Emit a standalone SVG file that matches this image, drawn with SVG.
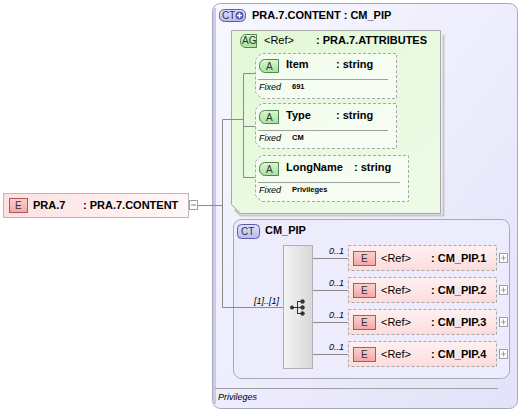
<svg xmlns="http://www.w3.org/2000/svg" width="522" height="412" viewBox="0 0 522 412">
<defs>
<linearGradient id="gOuter" x1="0" y1="0" x2="1" y2="1"><stop offset="0" stop-color="#f8f8ff"/><stop offset="1" stop-color="#e2e2fa"/></linearGradient>
<linearGradient id="gAG" x1="0" y1="0" x2="1" y2="1"><stop offset="0" stop-color="#e2f8d6"/><stop offset="1" stop-color="#eefbe8"/></linearGradient>
<linearGradient id="gAttr" x1="0" y1="0" x2="1" y2="1"><stop offset="0" stop-color="#f2fcec"/><stop offset="1" stop-color="#f8fdf5"/></linearGradient>
<linearGradient id="gEl" x1="0" y1="0" x2="0" y2="1"><stop offset="0" stop-color="#fff0f0"/><stop offset="1" stop-color="#fcdcdc"/></linearGradient>
<linearGradient id="gElMain" x1="0" y1="0" x2="1" y2="0"><stop offset="0" stop-color="#fde0e0"/><stop offset="1" stop-color="#fff8f8"/></linearGradient>
<linearGradient id="gSeq" x1="0" y1="0" x2="1" y2="0"><stop offset="0" stop-color="#f4f4f4"/><stop offset="1" stop-color="#d8d8d8"/></linearGradient>
<linearGradient id="gE" x1="0" y1="0" x2="0" y2="1"><stop offset="0" stop-color="#fcd0d0"/><stop offset="1" stop-color="#f0a8a8"/></linearGradient>
<linearGradient id="gA" x1="0" y1="0" x2="0" y2="1"><stop offset="0" stop-color="#d8f8d0"/><stop offset="1" stop-color="#a8e0a0"/></linearGradient>
<linearGradient id="gCT" x1="0" y1="0" x2="0" y2="1"><stop offset="0" stop-color="#e0e0ff"/><stop offset="1" stop-color="#b8b8f0"/></linearGradient>
</defs>
<style>
text{font-family:"Liberation Sans",Arial,sans-serif;fill:#000}
.b{font-weight:bold;font-size:11px}
.r{font-size:11px}
.i{font-style:italic;font-size:9px}
.v{font-weight:bold;font-size:7.5px}
.badge{font-size:10px;fill:#333}
.line{stroke:#8a8a8a;stroke-width:1;fill:none}
.dash{stroke:#a8a8a8;stroke-dasharray:3,2;stroke-width:1}
.eb{fill:url(#gE);stroke:#b05858;stroke-width:1}
.ab{fill:url(#gA);stroke:#508850;stroke-width:1}
.cb{fill:url(#gCT);stroke:#5c5ca8;stroke-width:1}
.btn{fill:#fff;stroke:#a0a0a0;stroke-width:1}
</style>

<g id="outer">
<rect x="212.5" y="3.5" width="305" height="405" rx="8" fill="url(#gOuter)" stroke="#a8a8b8"/>
<rect x="213" y="8" width="3" height="396" fill="#c8c8f0"/>
<path d="M219.5 15.5 a5 5 0 0 1 5 -6 h16 a5 5 0 0 1 5 6 a5 5 0 0 1 -5 6 h-16 a5 5 0 0 1 -5 -6z" class="cb"/>
<text x="222" y="19" class="badge">CT</text>
<circle cx="239.5" cy="15.5" r="4" fill="#5c5ca8"/>
<path d="M237 15.5h5M239.5 13v5" stroke="#fff" stroke-width="1.4"/>
<text x="252" y="19" class="b">PRA.7.CONTENT : CM_PIP</text>
<line x1="215" y1="388.5" x2="498" y2="388.5" stroke="#a0a0a0"/>
<text x="218" y="400" class="i">Privileges</text>
</g>

<g id="ag">
<path d="M443.5 34.5 v181 h-203 l-6 -6" fill="none" stroke="#c8c8c8" stroke-width="2"/>
<path d="M231.5 30.5 h209 v183 h-200 l-9 -9 z" fill="url(#gAG)" stroke="#a8a8a8"/>
<path d="M240.5 40.5 a7 7 0 0 1 4 -6 h12 v13 h-12 a7 7 0 0 1 -4 -7z" class="ab"/>
<text x="242" y="44" class="badge">AG</text>
<text x="264" y="44" class="r">&lt;Ref&gt;</text>
<text x="316" y="44" class="b">: PRA.7.ATTRIBUTES</text>
</g>

<g id="attr-item">
<path d="M255.5 59.5 l6 -6 h135 v45 h-135 l-6 -6 z" fill="url(#gAttr)" class="dash"/>
<path d="M259.5 65.5 a6 6 0 0 1 5 -6 h14 v13 h-14 a6 6 0 0 1 -5 -7z" class="ab"/>
<text x="266" y="70" class="badge">A</text>
<text x="286" y="68" class="b">Item</text>
<text x="336" y="68" class="b">: string</text>
<line x1="258" y1="79.5" x2="388" y2="79.5" stroke="#a0a0a0"/>
<text x="259" y="90" class="i">Fixed</text>
<text x="292" y="89" class="v">691</text>
</g>

<g id="attr-type">
<path d="M255.5 109.5 l6 -6 h135 v45 h-135 l-6 -6 z" fill="url(#gAttr)" class="dash"/>
<path d="M259.5 116.5 a6 6 0 0 1 5 -6 h14 v13 h-14 a6 6 0 0 1 -5 -7z" class="ab"/>
<text x="266" y="121" class="badge">A</text>
<text x="286" y="119" class="b">Type</text>
<text x="336" y="119" class="b">: string</text>
<line x1="258" y1="130.5" x2="388" y2="130.5" stroke="#a0a0a0"/>
<text x="259" y="141" class="i">Fixed</text>
<text x="292" y="140" class="v">CM</text>
</g>

<g id="attr-longname">
<path d="M255.5 161.5 l6 -6 h147 v46 h-147 l-6 -6 z" fill="url(#gAttr)" class="dash"/>
<path d="M259.5 168.5 a6 6 0 0 1 5 -6 h14 v13 h-14 a6 6 0 0 1 -5 -7z" class="ab"/>
<text x="266" y="173" class="badge">A</text>
<text x="286" y="171" class="b">LongName</text>
<text x="354" y="171" class="b">: string</text>
<line x1="258" y1="182.5" x2="400" y2="182.5" stroke="#a0a0a0"/>
<text x="259" y="193" class="i">Fixed</text>
<text x="292" y="192" class="v">Privileges</text>
</g>

<g id="cmpip">
<rect x="233.5" y="219.5" width="276" height="159" rx="8" fill="#ececfc" stroke="#a8a8b8"/>
<rect x="237.5" y="224.5" width="22" height="14" rx="4" class="cb"/>
<text x="241" y="235" class="badge">CT</text>
<text x="265" y="234" class="b">CM_PIP</text>
</g>

<g id="sequence">
<rect x="283.5" y="245.5" width="29" height="123" fill="url(#gSeq)" stroke="#b0b0b0"/>
<g stroke="#333" fill="#333">
<line x1="292" y1="307.5" x2="297" y2="307.5"/>
<path d="M297.5 301.5 v12 M297 301.5h4 M297 307.5h4 M297 313.5h4" fill="none"/>
<circle cx="292" cy="307.5" r="1.6"/>
<circle cx="302.5" cy="301.5" r="1.8"/>
<circle cx="302.5" cy="307.5" r="1.8"/>
<circle cx="302.5" cy="313.5" r="1.8"/>
</g>
</g>

<g id="pra7">
<rect x="3.5" y="193.5" width="185" height="24" fill="url(#gElMain)" stroke="#b8b8b8"/>
<rect x="9.5" y="198.5" width="18" height="14" class="eb"/>
<text x="15" y="209" class="badge">E</text>
<text x="33" y="209" class="b">PRA.7</text>
<text x="83" y="209" class="b">: PRA.7.CONTENT</text>
<rect x="189.5" y="200.5" width="8" height="9" class="btn"/>
<line x1="191" y1="205" x2="196" y2="205" stroke="#808080"/>
</g>

<g id="el1">
<rect x="348.5" y="245.5" width="148" height="25" fill="url(#gEl)" class="dash"/>
<rect x="353.5" y="251.5" width="22" height="14" class="eb"/>
<text x="361" y="262" class="badge">E</text>
<text x="381" y="262" class="r">&lt;Ref&gt;</text>
<text x="431" y="262" class="b">: CM_PIP.1</text>
<rect x="499.5" y="253.5" width="8" height="9" class="btn"/>
<path d="M501 258h5M503.5 255.5v5" stroke="#a0a0a0"/>
</g>
<g id="el2">
<rect x="348.5" y="277.5" width="148" height="25" fill="url(#gEl)" class="dash"/>
<rect x="353.5" y="283.5" width="22" height="14" class="eb"/>
<text x="361" y="294" class="badge">E</text>
<text x="381" y="294" class="r">&lt;Ref&gt;</text>
<text x="431" y="294" class="b">: CM_PIP.2</text>
<rect x="499.5" y="285.5" width="8" height="9" class="btn"/>
<path d="M501 290h5M503.5 287.5v5" stroke="#a0a0a0"/>
</g>
<g id="el3">
<rect x="348.5" y="309.5" width="148" height="25" fill="url(#gEl)" class="dash"/>
<rect x="353.5" y="315.5" width="22" height="14" class="eb"/>
<text x="361" y="326" class="badge">E</text>
<text x="381" y="326" class="r">&lt;Ref&gt;</text>
<text x="431" y="326" class="b">: CM_PIP.3</text>
<rect x="499.5" y="317.5" width="8" height="9" class="btn"/>
<path d="M501 322h5M503.5 319.5v5" stroke="#a0a0a0"/>
</g>
<g id="el4">
<rect x="348.5" y="341.5" width="148" height="25" fill="url(#gEl)" class="dash"/>
<rect x="353.5" y="347.5" width="22" height="14" class="eb"/>
<text x="361" y="358" class="badge">E</text>
<text x="381" y="358" class="r">&lt;Ref&gt;</text>
<text x="431" y="358" class="b">: CM_PIP.4</text>
<rect x="499.5" y="349.5" width="8" height="9" class="btn"/>
<path d="M501 354h5M503.5 351.5v5" stroke="#a0a0a0"/>
</g>

<g id="connectors">
<path class="line" d="M198 205.5 H222.5 M222.5 119.5 V307.5 M222.5 119.5 H243.5 M243.5 73.5 V177.5 M243.5 73.5 H255 M243.5 126.5 H255 M243.5 177.5 H255 M222.5 307.5 H283"/>
<path class="line" d="M313 258.5 H348 M313 290.5 H348 M313 322.5 H348 M313 354.5 H348"/>
<text x="254" y="304" class="i">[1]..[1]</text>
<text x="329" y="254" class="i">0..1</text>
<text x="329" y="286" class="i">0..1</text>
<text x="329" y="318" class="i">0..1</text>
<text x="329" y="350" class="i">0..1</text>
</g>
</svg>
